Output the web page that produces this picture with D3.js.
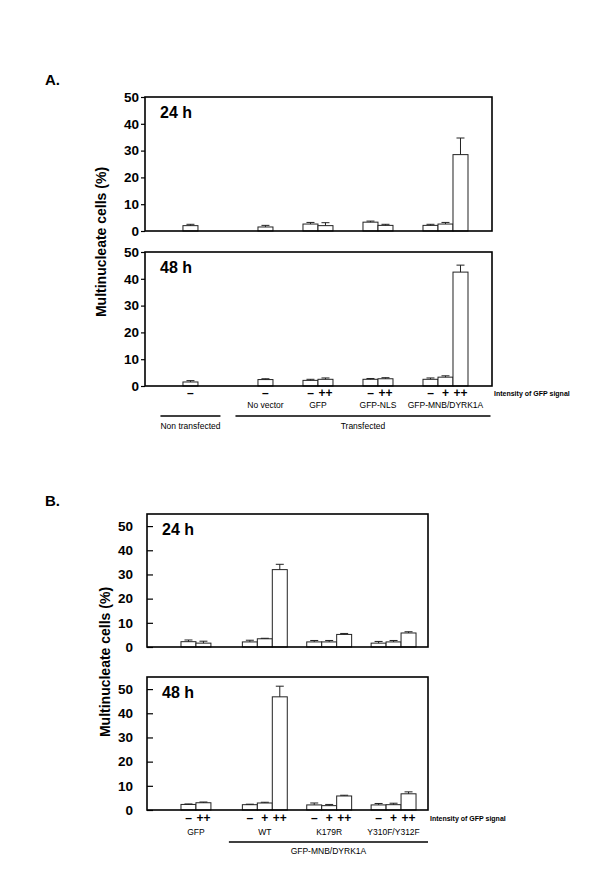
<!DOCTYPE html>
<html>
<head>
<meta charset="utf-8">
<script src="https://cdn.jsdelivr.net/npm/d3@7"></script>
<style>
  body { margin: 0; background: #fff; }
  text { font-family: "Liberation Sans", Arial, sans-serif; fill: #000; }
</style>
</head>
<body>
<script>
// ---- data: panel A ----
const groupsA = ['', 'No vector', 'GFP', 'GFP-NLS', 'GFP-MNB/DYRK1A'];
const levelsA = [['–'], ['–'], ['–', '++'], ['–', '++'], ['–', '+', '++']];
const supersA = [
  { label: 'Non transfected', groups: [0] },
  { label: 'Transfected', groups: [1, 2, 3, 4] }
];
const a24 = [[2.0], [1.5], [2.6, 2.0], [3.3, 2.1], [2.1, 2.6, 28.5]];
const a24err = [[0.5], [0.6], [0.6, 1.1], [0.4, 0.4], [0.4, 0.6, 6.2]];
const a48 = [[1.5], [2.4], [2.1, 2.5], [2.5, 2.7], [2.5, 3.3, 42.5]];
const a48err = [[0.5], [0.3], [0.4, 0.5], [0.3, 0.4], [0.5, 0.5, 2.6]];

// ---- data: panel B ----
const groupsB = ['GFP', 'WT', 'K179R', 'Y310F/Y312F'];
const levelsB = [['–', '++'], ['–', '+', '++'], ['–', '+', '++'], ['–', '+', '++']];
const supersB = [
  { label: '', groups: [0] },
  { label: 'GFP-MNB/DYRK1A', groups: [1, 2, 3] }
];
const b24 = [[2.2, 1.6], [2.1, 3.4, 32.0], [2.1, 2.1, 5.2], [1.6, 2.1, 5.8]];
const b24err = [[0.7, 0.8], [0.7, 0.2, 2.2], [0.6, 0.6, 0.4], [0.7, 0.6, 0.5]];
const b48 = [[2.3, 3.0], [2.2, 2.9, 46.8], [2.1, 1.8, 5.8], [2.1, 2.2, 6.7]];
const b48err = [[0.2, 0.3], [0.2, 0.3, 4.4], [0.8, 0.5, 0.3], [0.6, 0.6, 0.8]];

const yTicks = [0, 10, 20, 30, 40, 50];
const yLabel = 'Multinucleate cells (%)';
const intensityLabel = 'Intensity of GFP signal';

const panels = [
  {
    title: 'A.', titleY: 85,
    groups: groupsA, levels: levelsA, supers: supersA,
    series: [{ label: '24 h', v: a24, e: a24err }, { label: '48 h', v: a48, e: a48err }],
    left: 145, right: 492, tops: [97, 252], h: 134, yMax: 50,
    gapIn: 2, gapOut: 4, padL: 2.53, padR: 1.6, linePad: 1.5,
    tick: 4, labelX: 106, labelY: 242,
    signDy: 11, groupDy: 22, lineDy: 30, superDy: 43
  },
  {
    title: 'B.', titleY: 506,
    groups: groupsB, levels: levelsB, supers: supersB,
    series: [{ label: '24 h', v: b24, e: b24err }, { label: '48 h', v: b48, e: b48err }],
    left: 147, right: 428, tops: [514, 677], h: 133, yMax: 55,
    gapIn: 1.3, gapOut: 2.1, padL: 2.27, padR: 0.8, linePad: 0.9,
    tick: -6, labelX: 110, labelY: 662,
    signDy: 12, groupDy: 25, lineDy: 32, superDy: 44
  }
];

const svg = d3.select('body').append('svg')
  .attr('width', 600)
  .attr('height', 879);

panels.forEach(p => {
  // slot positions of the bars, groups packed with gaps
  const bars = [];
  let pos = 0;
  p.supers.forEach((s, si) => {
    s.groups.forEach((g, gi) => {
      if (bars.length) pos += gi === 0 ? p.gapOut : p.gapIn;
      p.levels[g].forEach((lv, i) => {
        bars.push({ g, i, lv, slot: pos });
        pos += 1;
      });
    });
  });

  const x = d3.scaleLinear()
    .domain([-p.padL, pos + p.padR])
    .range([p.left, p.right]);
  const bw = x(1) - x(0);

  svg.append('text')
    .attr('x', 45).attr('y', p.titleY)
    .attr('font-size', 15).attr('font-weight', 'bold')
    .text(p.title);

  p.series.forEach((s, k) => {
    const top = p.tops[k];
    const y = d3.scaleLinear().domain([0, p.yMax]).range([top + p.h, top]);
    const g = svg.append('g');

    // axis
    const ax = g.append('g')
      .attr('transform', `translate(${p.left},0)`)
      .call(d3.axisLeft(y).tickValues(yTicks).tickSize(p.tick).tickPadding(p.tick > 0 ? 2 : 14));
    ax.select('.domain').remove();
    ax.selectAll('line').attr('stroke', '#000').attr('stroke-width', 1.2);
    ax.selectAll('text')
      .attr('font-size', 13.5).attr('font-weight', 'bold')
      .attr('font-family', '"Liberation Sans", Arial, sans-serif');

    // bars
    g.selectAll('rect.bar').data(bars).join('rect')
      .attr('class', 'bar')
      .attr('x', d => x(d.slot))
      .attr('y', d => y(s.v[d.g][d.i]))
      .attr('width', bw)
      .attr('height', d => y(0) - y(s.v[d.g][d.i]))
      .attr('fill', '#fff')
      .attr('stroke', '#222')
      .attr('stroke-width', 1);

    // error bars (upper only)
    const eb = g.selectAll('g.err').data(bars).join('g').attr('class', 'err');
    eb.append('line')
      .attr('x1', d => x(d.slot + 0.5)).attr('x2', d => x(d.slot + 0.5))
      .attr('y1', d => y(s.v[d.g][d.i]))
      .attr('y2', d => y(s.v[d.g][d.i] + s.e[d.g][d.i]))
      .attr('stroke', '#222');
    eb.append('line')
      .attr('x1', d => x(d.slot + 0.5) - 4).attr('x2', d => x(d.slot + 0.5) + 4)
      .attr('y1', d => y(s.v[d.g][d.i] + s.e[d.g][d.i]))
      .attr('y2', d => y(s.v[d.g][d.i] + s.e[d.g][d.i]))
      .attr('stroke', '#222');

    // frame
    g.append('rect')
      .attr('x', p.left).attr('y', top)
      .attr('width', p.right - p.left).attr('height', p.h)
      .attr('fill', 'none').attr('stroke', '#000').attr('stroke-width', 1.6);

    g.append('text')
      .attr('x', p.left + 15).attr('y', top + 21)
      .attr('font-size', 16).attr('font-weight', 'bold')
      .text(s.label);
  });

  // y label
  svg.append('text')
    .attr('transform', `translate(${p.labelX},${p.labelY}) rotate(-90)`)
    .attr('text-anchor', 'middle')
    .attr('font-size', 14).attr('font-weight', 'bold')
    .text(yLabel);

  // labels under bottom panel
  const base = p.tops[1] + p.h;
  svg.append('g').selectAll('text').data(bars).join('text')
    .attr('x', d => x(d.slot + 0.5))
    .attr('y', base + p.signDy)
    .attr('text-anchor', 'middle')
    .attr('font-size', 12).attr('font-weight', 'bold')
    .text(d => d.lv);

  svg.append('text')
    .attr('x', p.right + 2).attr('y', base + p.signDy - 1)
    .attr('font-size', 7).attr('font-weight', 'bold')
    .text(intensityLabel);

  const groupSpan = gi => {
    const gb = bars.filter(b => b.g === gi);
    return [gb[0].slot, gb[gb.length - 1].slot + 1];
  };

  svg.append('g').selectAll('text').data(p.groups.map((name, gi) => ({ name, gi }))).join('text')
    .attr('x', d => { const [a, b] = groupSpan(d.gi); return x((a + b) / 2); })
    .attr('y', base + p.groupDy)
    .attr('text-anchor', 'middle')
    .attr('font-size', 8.5)
    .text(d => d.name);

  p.supers.filter(s => s.label).forEach(s => {
    const a = groupSpan(s.groups[0])[0];
    const b = groupSpan(s.groups[s.groups.length - 1])[1];
    const x1 = x(a - p.linePad);
    const x2 = Math.min(x(b + p.linePad), p.right);
    svg.append('line')
      .attr('x1', x1).attr('x2', x2)
      .attr('y1', base + p.lineDy).attr('y2', base + p.lineDy)
      .attr('stroke', '#000').attr('stroke-width', 1.3);
    svg.append('text')
      .attr('x', (x1 + x2) / 2).attr('y', base + p.superDy)
      .attr('text-anchor', 'middle')
      .attr('font-size', 8.5)
      .text(s.label);
  });
});
</script>
</body>
</html>
